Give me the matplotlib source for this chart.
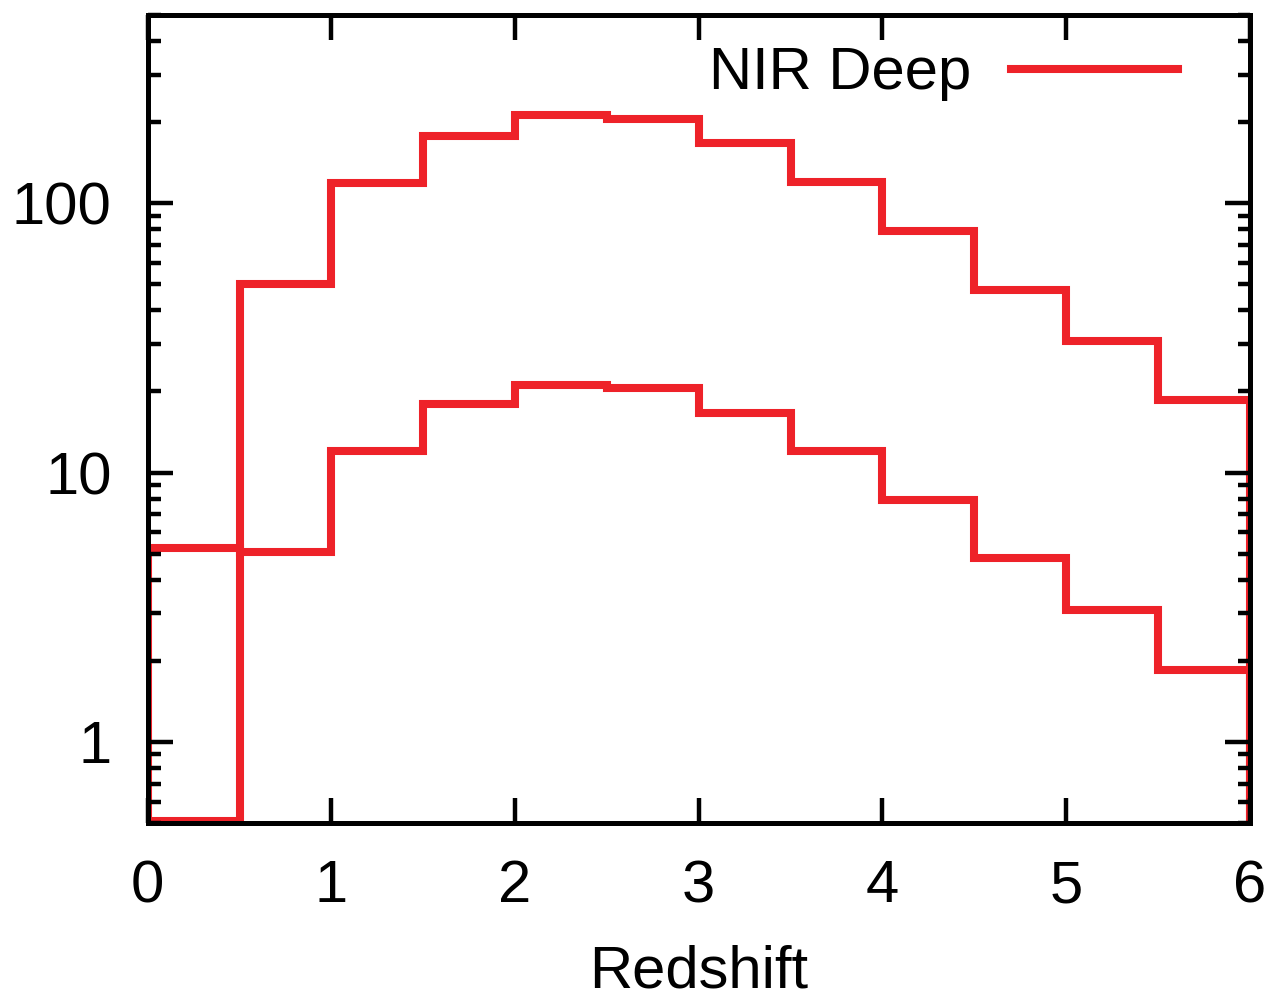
import numpy as np
import matplotlib
matplotlib.use('Agg')
import matplotlib.pyplot as plt
from matplotlib.ticker import LogLocator, FixedLocator, NullFormatter

plt.rcParams['font.family'] = ['Liberation Sans', 'DejaVu Sans']

# Bin edges in redshift
edges = np.arange(0, 6.01, 0.5)
# Upper histogram (counts)
upper = [0.51, 50, 119, 178, 212, 206, 167, 120, 79, 47.5, 30.8, 18.6]
# Lower histogram (counts)
lower = [5.25, 5.05, 12.0, 17.9, 21.2, 20.6, 16.7, 12.0, 7.9, 4.8, 3.1, 1.85]

red = '#EE2229'

fig = plt.figure(figsize=(12.74, 9.98), dpi=100)
ax = fig.add_axes([0.116, 0.1754, 0.865, 0.8096])

ax.stairs(upper, edges, baseline=0.5, color=red, linewidth=5.8, label='NIR Deep')
ax.stairs(lower, edges, baseline=0.5, color=red, linewidth=5.8)

ax.set_yscale('log')
ax.set_xlim(0, 6)
ax.set_ylim(0.5, 500)

ax.xaxis.set_major_locator(FixedLocator(range(7)))
ax.yaxis.set_major_locator(FixedLocator([1, 10, 100]))
ax.set_yticklabels(['1', '10', '100'])
ax.yaxis.set_minor_locator(LogLocator(base=10, subs=np.arange(2, 10), numticks=20))
ax.yaxis.set_minor_formatter(NullFormatter())

for s in ax.spines.values():
    s.set_linewidth(3.6)
ax.tick_params(which='both', direction='in', top=True, right=True, width=3.2, labelsize=43)
ax.tick_params(which='major', length=18)
ax.tick_params(which='minor', length=9)
ax.tick_params(axis='x', pad=26)
ax.tick_params(axis='y', pad=26)

ax.set_xlabel('Redshift', fontsize=43, labelpad=22)

ax.legend(loc='upper right', frameon=False, markerfirst=False, fontsize=43,
          handlelength=2.8, handletextpad=0.67, bbox_to_anchor=(0.935, 0.961),
          borderaxespad=0, borderpad=0)

fig.savefig('out.png', dpi=100)
